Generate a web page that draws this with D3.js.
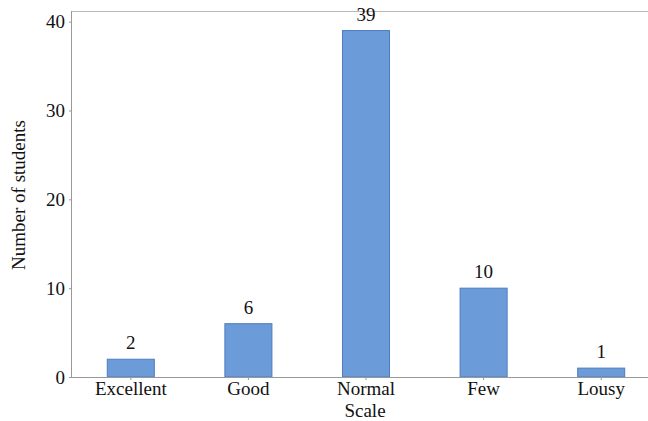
<!DOCTYPE html>
<html><head><meta charset="utf-8">
<script src="https://cdn.jsdelivr.net/npm/d3@7"></script>
<style>body{margin:0;background:#fff}svg{display:block}
svg, svg text, svg g{font-family:"Liberation Serif", serif !important}</style>
</head><body>
<script>
const categories = ["Excellent","Good","Normal","Few","Lousy"];
const values = [2,6,39,10,1];
const yTicks = [0,10,20,30,40];

(function(){
const W = 648, H = 421;
const FONT = "Liberation Serif";
const mLeft = 72, mTop = 11, mBottom = 377, rightEnd = 660;
const svg = d3.select("body").append("svg").attr("width",W).attr("height",H)
  .attr("font-family",FONT);

const x = d3.scaleBand().domain(categories).range([mLeft,rightEnd]).paddingInner(0.6).paddingOuter(0.3);
const y = d3.scaleLinear().domain([0,41.2]).range([mBottom,mTop]);

svg.append("line").attr("x1",mLeft).attr("x2",W).attr("y1",mTop+0.5).attr("y2",mTop+0.5).attr("stroke","#bbb");

svg.selectAll("rect.bar").data(values).join("rect").attr("class","bar")
  .attr("x",(d,i)=>x(categories[i])).attr("width",x.bandwidth())
  .attr("y",d=>y(d)).attr("height",d=>y(0)-y(d))
  .attr("fill","#6b9bd9").attr("stroke","#4d7cbf").attr("stroke-width",1);

svg.selectAll("text.val").data(values).join("text").attr("class","val")
  .attr("x",(d,i)=>x(categories[i])+x.bandwidth()/2).attr("y",d=>y(d)-10)
  .attr("text-anchor","middle").attr("font-family",FONT).attr("font-size",19).attr("fill","#111").text(d=>d);

const ya = svg.append("g").attr("transform",`translate(${mLeft},0)`)
  .call(d3.axisLeft(y).tickValues(yTicks).tickSize(3).tickPadding(4));
ya.attr("font-family",FONT).attr("font-size",19);
ya.select(".domain").attr("stroke","#999").attr("d",`M-0.5,${mBottom}V${mTop}`);
ya.selectAll(".tick line").attr("stroke","#999");
ya.selectAll(".tick text").attr("fill","#111");

const xa = svg.append("g").attr("transform",`translate(0,${mBottom})`)
  .call(d3.axisBottom(x).tickSize(3).tickPadding(2).tickSizeOuter(0));
xa.attr("font-family",FONT).attr("font-size",19);
xa.select(".domain").attr("stroke","#999").attr("d",`M${mLeft},0.5H${W}`);
xa.selectAll(".tick line").attr("stroke","#999");
xa.selectAll(".tick text").attr("fill","#111");

svg.append("text").attr("x",365).attr("y",417).attr("text-anchor","middle").attr("font-family",FONT).attr("font-size",19).attr("fill","#111").text("Scale");
svg.append("text").attr("transform","translate(25,195) rotate(-90)").attr("text-anchor","middle").attr("font-family",FONT).attr("font-size",19).attr("fill","#111").text("Number of students");
})();
</script>
</body></html>
